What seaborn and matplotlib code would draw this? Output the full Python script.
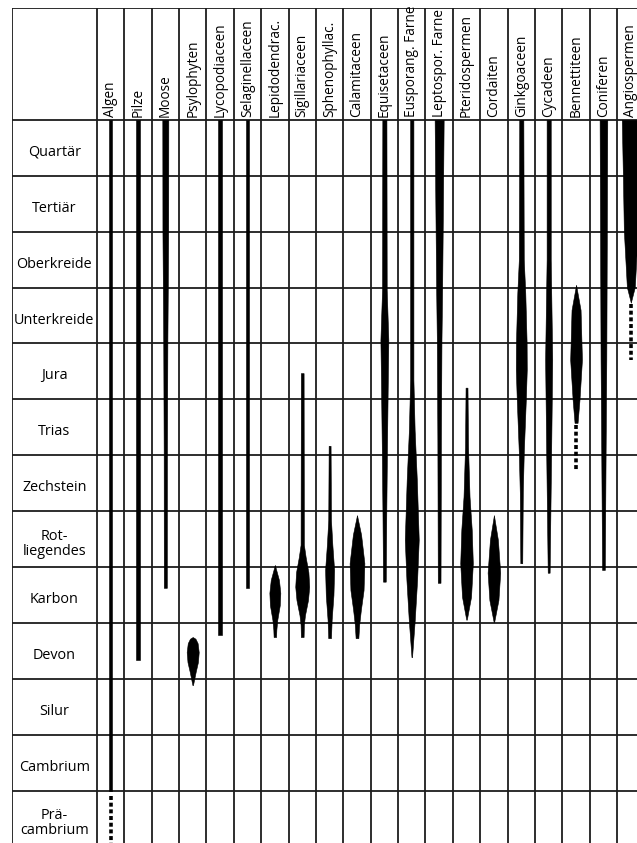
#!/usr/bin/env python3

# Spindle diagram: stratigraphic ranges of plant groups

import matplotlib
matplotlib.use("Agg")
import matplotlib.pyplot as plt
import seaborn as sns

sns.set_theme(style="white")
plt.rcParams["font.family"] = ["Open Sans", "DejaVu Sans"]

periods = ["Quartär", "Tertiär", "Oberkreide", "Unterkreide", "Jura", "Trias",
           "Zechstein", "Rot-\nliegendes", "Karbon", "Devon", "Silur",
           "Cambrium", "Prä-\ncambrium"]

taxa = ["Algen", "Pilze", "Moose", "Psylophyten", "Lycopodiaceen",
        "Selaginellaceen", "Lepidodendrac.", "Sigillariaceen", "Sphenophyllac.",
        "Calamitaceen", "Equisetaceen", "Eusporang. Farne", "Leptospor. Farne",
        "Pteridospermen", "Cordaiten", "Ginkgoaceen", "Cycadeen",
        "Bennettiteen", "Coniferen", "Angiospermen"]

# profiles: (time in period rows from top, width in column units)
algen = [(0, 0.14), (12.0, 0.14)]
pilze = [(0, 0.14), (9.66, 0.14)]
moose = [(0, 0.22), (2.0, 0.21), (4.0, 0.15), (6.0, 0.12), (8.37, 0.11)]
psylophyten = [(9.25, 0.0), (9.28, 0.2), (9.36, 0.36), (9.52, 0.44),
               (9.70, 0.38), (9.87, 0.22), (10.11, 0.02)]
lycopodiaceen = [(0, 0.14), (9.21, 0.14)]
selaginellaceen = [(0, 0.14), (8.37, 0.14)]
lepidodendrac = [(7.96, 0.0), (8.23, 0.30), (8.46, 0.40), (8.68, 0.36),
                 (8.94, 0.18), (9.12, 0.11), (9.25, 0.09)]
sigillariaceen = [(4.53, 0.10), (7.60, 0.12), (7.82, 0.25), (8.09, 0.45),
                  (8.35, 0.51), (8.59, 0.42), (8.86, 0.20), (9.03, 0.12),
                  (9.25, 0.10)]
sphenophyllac = [(5.83, 0.07), (7.16, 0.10), (7.60, 0.20), (8.05, 0.33),
                 (8.50, 0.28), (8.94, 0.15), (9.27, 0.10)]
calamitaceen = [(7.07, 0.0), (7.42, 0.30), (7.93, 0.54), (8.41, 0.48),
                (8.77, 0.28), (9.03, 0.16), (9.27, 0.10)]
equisetaceen = [(0, 0.15), (3.04, 0.17), (3.94, 0.29), (4.65, 0.25),
                (5.85, 0.19), (7.03, 0.14), (8.26, 0.10)]
eusporang = [(0, 0.12), (4.65, 0.12), (5.55, 0.21), (6.44, 0.37),
             (7.51, 0.51), (8.23, 0.39), (8.94, 0.22), (9.61, 0.02)]
leptospor = [(0, 0.33), (1.43, 0.28), (2.99, 0.22), (3.94, 0.17),
             (5.72, 0.13), (8.28, 0.10)]
pteridospermen = [(4.79, 0.07), (5.85, 0.11), (6.74, 0.22), (7.33, 0.38),
                  (7.93, 0.46), (8.53, 0.33), (8.94, 0.02)]
cordaiten = [(7.07, 0.0), (7.51, 0.29), (8.10, 0.46), (8.59, 0.33),
             (8.98, 0.02)]
ginkgoaceen = [(0, 0.15), (2.50, 0.18), (3.09, 0.29), (3.99, 0.39),
               (4.47, 0.40), (5.01, 0.33), (5.96, 0.18), (6.67, 0.11),
               (7.93, 0.07)]
cycadeen = [(0, 0.15), (2.50, 0.15), (4.29, 0.26), (5.96, 0.18), (8.10, 0.07)]
bennettiteen = [(2.95, 0.0), (3.40, 0.33), (4.29, 0.43), (5.01, 0.25),
                (5.42, 0.11)]
coniferen = [(0, 0.28), (4.29, 0.21), (5.90, 0.16), (8.05, 0.10)]
angiospermen = [(0, 0.66), (1.0, 0.58), (1.99, 0.51), (2.99, 0.29),
                (3.27, 0.0)]

profiles = [algen, pilze, moose, psylophyten, lycopodiaceen, selaginellaceen,
            lepidodendrac, sigillariaceen, sphenophyllac, calamitaceen,
            equisetaceen, eusporang, leptospor, pteridospermen, cordaiten,
            ginkgoaceen, cycadeen, bennettiteen, coniferen, angiospermen]

# uncertain (dashed) extensions: (taxon index, start, end)
dashed = [(0, 12.1, 12.95), (17, 5.46, 6.26), (19, 3.30, 4.29)]

LABEL_W = 3.1   # width of the period label column, in taxon columns
HEAD_H = 2.0    # height of the header row, in period rows


def main():
    fig = plt.figure(figsize=(6.37, 8.43), dpi=100)
    ax = fig.add_axes([0.0188, -0.0044, 0.993, 0.9949])
    ax.set_xlim(-LABEL_W, len(taxa))
    ax.set_ylim(len(periods), -HEAD_H)
    ax.axis("off")

    grid = dict(color="#1c1c1c", lw=1.3, zorder=1)
    for x in [-LABEL_W] + list(range(len(taxa) + 1)):
        ax.axvline(x, **grid)
    for y in [-HEAD_H] + list(range(len(periods) + 1)):
        ax.axhline(y, **grid)

    for i, prof in enumerate(profiles):
        ys = [p[0] for p in prof]
        ws = [p[1] for p in prof]
        c = i + 0.5
        ax.fill_betweenx(ys, [c - w / 2 for w in ws], [c + w / 2 for w in ws],
                         color="black", lw=0.4, zorder=3)

    for i, y0, y1 in dashed:
        ax.plot([i + 0.5, i + 0.5], [y0, y1], color="black", lw=2.6,
                ls=(0, (1.1, 0.75)), solid_capstyle="butt", zorder=3)

    for i, name in enumerate(taxa):
        ax.text(i + 0.5, -0.05, name, rotation=90, ha="center", va="bottom",
                fontsize=9.8, color="black")

    for j, name in enumerate(periods):
        ax.text(-LABEL_W / 2, j + 0.58, name, ha="center", va="center",
                fontsize=10.4, color="black", linespacing=1.0)

    fig.savefig("out.png", dpi=100)


if __name__ == "__main__":
    main()
